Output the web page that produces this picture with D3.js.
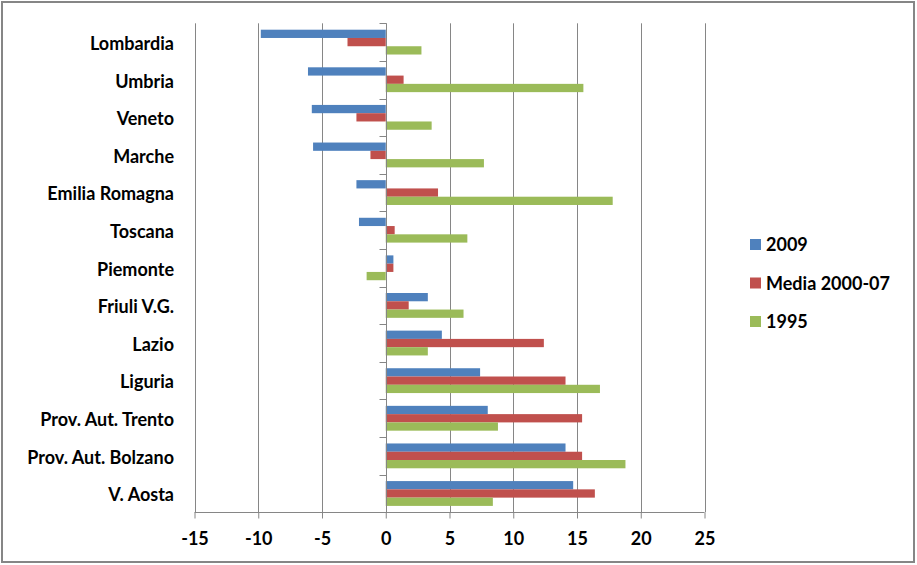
<!DOCTYPE html>
<html><head><meta charset="utf-8">
<script src="https://cdn.jsdelivr.net/npm/d3@7"></script>
<style>
html,body{margin:0;padding:0;background:#fff;}
svg{display:block;}
text{font-family:Lato, "Open Sans", sans-serif;font-weight:bold;fill:#000;}
</style></head>
<body>
<svg id="chart" width="917" height="565"></svg>
<script>
const categories = ["Lombardia","Umbria","Veneto","Marche","Emilia Romagna","Toscana","Piemonte","Friuli V.G.","Lazio","Liguria","Prov. Aut. Trento","Prov. Aut. Bolzano","V. Aosta"];
const seriesNames = ["2009","Media 2000-07","1995"];
const values2009 = [-9.8,-6.1,-5.8,-5.7,-2.3,-2.1,0.6,3.3,4.4,7.4,8.0,14.1,14.7];
const valuesMedia = [-3.0,1.4,-2.3,-1.2,4.1,0.7,0.6,1.8,12.4,14.1,15.4,15.4,16.4];
const values1995 = [2.8,15.5,3.6,7.7,17.8,6.4,-1.5,6.1,3.3,16.8,8.8,18.8,8.4];
const xTicks = [-15,-10,-5,0,5,10,15,20,25];
const colors = ["#4F81BD","#C0504D","#9BBB59"];

(function(){
const series = [values2009, valuesMedia, values1995];
const svg = d3.select("#chart");
const W = 917, H = 565;
const pLeft = 194.5, pRight = 704.5, pTop = 23.3, pBottom = 512.3;

// outer border
svg.append("rect").attr("x",2).attr("y",2).attr("width",W-5).attr("height",H-5)
  .attr("fill","#fff").attr("stroke","#868686").attr("stroke-width",2);

const x = d3.scaleLinear().domain([-15,25]).range([pLeft,pRight]);
const y = d3.scaleBand().domain(categories).range([pTop,pBottom]).paddingInner(0).paddingOuter(0);
const bw = y.bandwidth();
const bh = bw*0.22;
const off = (bw - 3*bh)/2;

// gridlines
svg.append("g").selectAll("line").data(xTicks.filter(d=>d!==0)).join("line")
  .attr("x1",d=>Math.round(x(d))+0.5).attr("x2",d=>Math.round(x(d))+0.5)
  .attr("y1",pTop).attr("y2",pBottom)
  .attr("stroke","#868686").attr("stroke-width",1);

// bars
seriesNames.forEach((name,si)=>{
  svg.append("g").selectAll("rect").data(categories).join("rect")
    .attr("x",(c,i)=>Math.min(x(0),x(series[si][i])))
    .attr("width",(c,i)=>Math.abs(x(series[si][i])-x(0)))
    .attr("y",c=>y(c)+off+si*bh)
    .attr("height",bh)
    .attr("fill",colors[si]);
});

// x axis
const xAxis = d3.axisBottom(x).tickValues(xTicks).tickSize(6).tickPadding(14).tickFormat(d=>String(d));
const gx = svg.append("g").attr("transform",`translate(0,${Math.round(pBottom)+0.5})`).call(xAxis);
gx.select(".domain").attr("stroke","#868686").attr("d",`M${pLeft},0H${pRight}`);
gx.selectAll(".tick line").attr("stroke","#868686");
gx.selectAll(".tick text").style("font-size","18px").attr("fill","#000");

// y axis at zero, ticks between categories
const zx = Math.round(x(0))+0.5;
svg.append("line").attr("x1",zx).attr("x2",zx).attr("y1",pTop).attr("y2",pBottom)
  .attr("stroke","#868686");
const bounds = categories.map(c=>y(c));
svg.append("g").selectAll("line").data(bounds).join("line")
  .attr("x1",zx-7).attr("x2",zx).attr("y1",d=>Math.round(d)+0.5).attr("y2",d=>Math.round(d)+0.5)
  .attr("stroke","#868686");

// category labels
svg.append("g").selectAll("text").data(categories).join("text")
  .attr("x",174).attr("y",c=>y(c)+bw/2+1.5).attr("dy","0.35em")
  .attr("text-anchor","end").style("font-size","18px").text(c=>c);

// legend
const leg = svg.append("g");
seriesNames.forEach((name,i)=>{
  const cy = 244 + i*38.5;
  leg.append("rect").attr("x",750).attr("y",cy-5).attr("width",11).attr("height",11).attr("fill",colors[i]);
  leg.append("text").attr("x",766).attr("y",cy+1).attr("dy","0.35em").style("font-size","18px").text(name);
});
})();
</script>
</body></html>
